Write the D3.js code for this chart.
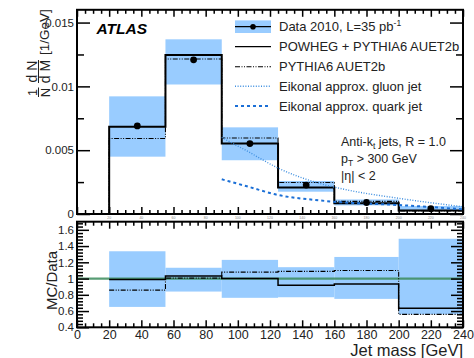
<!DOCTYPE html>
<html>
<head>
<meta charset="utf-8">
<script src="https://cdn.jsdelivr.net/npm/d3@7"></script>
<style>
  body { margin: 0; background: #fff; }
  svg { display: block; font-family: "Liberation Sans", Arial, Helvetica, sans-serif; }
</style>
</head>
<body>
<div id="chart"></div>
<script>
// ---- data ----
const binEdges = [20, 55, 90, 125, 160, 200, 240];
const dataValues = [0.0069, 0.01208, 0.00552, 0.00227, 0.0009, 0.00042];
// relative systematic band (upper / lower), same as ratio panel band
const bandHigh = [1.336, 1.133, 1.23, 1.14, 1.266, 1.49];
const bandLow = [0.651, 0.84, 0.763, 0.77, 0.75, 0.56];
const powhegValues = [0.00683, 0.01245, 0.00552, 0.00208, 0.00084, 0.000267];
const pythiaValues = [0.00592, 0.01214, 0.00596, 0.00247, 0.00099, 0.000235];
// eikonal approximations [mass, value]
const gluonCurve = [[90, 0.0060], [106.5, 0.00488], [125, 0.0036], [148, 0.0025], [167.5, 0.0019], [200, 0.00123], [240, 0.00057]];
const quarkCurve = [[90, 0.00272], [106.5, 0.00214], [125, 0.00149], [148, 0.0011], [162, 0.00094], [200, 0.0007], [240, 0.00037]];

const xMajor = [0, 20, 40, 60, 80, 100, 120, 140, 160, 180, 200, 220, 240];
const yTopMajor = [0, 0.005, 0.01, 0.015];
const yTopLabels = ["0", "0.005", "0.01", "0.015"];
const yRatioMajor = [0.4, 0.6, 0.8, 1, 1.2, 1.4, 1.6];
const yRatioLabels = ["0.4", "0.6", "0.8", "1", "1.2", "1.4", "1.6"];

const legendLabels = ["Data 2010, L=35 pb", "POWHEG + PYTHIA6 AUET2b", "PYTHIA6 AUET2b",
                      "Eikonal approx. gluon jet", "Eikonal approx. quark jet"];

// ---- layout ----
const W = 474, H = 358;
const left = 77, right = 463;
const topPanel = {top: 9.8, bottom: 214};
const ratioPanel = {top: 221.7, bottom: 327.3};

const bandColor = "#99ccff";
const gluonColor = "#3f8fe0";
const quarkColor = "#1b6fd6";

const svg = d3.select("#chart").append("svg")
    .attr("width", W).attr("height", H);
svg.append("rect").attr("width", W).attr("height", H).attr("fill", "#fff");

const x = d3.scaleLinear().domain([0, 240]).range([left, right]);
const yTop = d3.scaleLinear().domain([0, 0.016]).range([topPanel.bottom, topPanel.top]);
const yRatio = d3.scaleLinear().domain([0.4, 1.7]).range([ratioPanel.bottom, ratioPanel.top]);

const bins = dataValues.map((d, i) => ({
    x0: binEdges[i], x1: binEdges[i + 1], data: d,
    hi: bandHigh[i], lo: bandLow[i],
    powheg: powhegValues[i], pythia: pythiaValues[i]
}));

// step path through bins
function stepPoints(vals, fromZero) {
    let pts = [];
    if (fromZero) pts.push([binEdges[0], 0]);
    vals.forEach((v, i) => {
        pts.push([binEdges[i], v]);
        pts.push([binEdges[i + 1], v]);
    });
    return pts;
}

// ================= top panel =================
const gTop = svg.append("g");

gTop.selectAll(".band")
    .data(bins)
    .enter().append("rect")
    .attr("class", "band")
    .attr("x", d => x(d.x0))
    .attr("width", d => x(d.x1) - x(d.x0))
    .attr("y", d => yTop(d.data * d.hi))
    .attr("height", d => yTop(d.data * d.lo) - yTop(d.data * d.hi))
    .attr("fill", bandColor);

const lineTop = d3.line().x(d => x(d[0])).y(d => yTop(d[1]));

gTop.append("path")
    .attr("d", lineTop(stepPoints(pythiaValues, true)))
    .attr("fill", "none").attr("stroke", "#000").attr("stroke-width", 1.1)
    .attr("stroke-dasharray", "5,1.5,1,1.5,1,1.5");

gTop.append("path")
    .attr("d", lineTop(stepPoints(powhegValues, true)))
    .attr("fill", "none").attr("stroke", "#000").attr("stroke-width", 2);

const curveLine = d3.line().x(d => x(d[0])).y(d => yTop(d[1])).curve(d3.curveMonotoneX);

gTop.append("path")
    .attr("d", curveLine(gluonCurve))
    .attr("fill", "none").attr("stroke", gluonColor).attr("stroke-width", 1.4)
    .attr("stroke-dasharray", "1,1.6");

gTop.append("path")
    .attr("d", curveLine(quarkCurve))
    .attr("fill", "none").attr("stroke", quarkColor).attr("stroke-width", 2)
    .attr("stroke-dasharray", "3,3");

gTop.selectAll(".pt")
    .data(bins)
    .enter().append("circle")
    .attr("class", "pt")
    .attr("cx", d => (x(d.x0) + x(d.x1)) / 2)
    .attr("cy", d => yTop(d.data))
    .attr("r", 3.4)
    .attr("fill", "#000");

// ================= ratio panel =================
const gRatio = svg.append("g");

gRatio.selectAll(".band")
    .data(bins)
    .enter().append("rect")
    .attr("class", "band")
    .attr("x", d => x(d.x0))
    .attr("width", d => x(d.x1) - x(d.x0))
    .attr("y", d => yRatio(d.hi))
    .attr("height", d => yRatio(d.lo) - yRatio(d.hi))
    .attr("fill", bandColor);

gRatio.append("line")
    .attr("x1", x(0)).attr("x2", x(240))
    .attr("y1", yRatio(1)).attr("y2", yRatio(1))
    .attr("stroke", "#3c8c5c").attr("stroke-width", 2.2).attr("opacity", 0.85);

const lineRatio = d3.line().x(d => x(d[0])).y(d => yRatio(d[1]));
const pythiaRatio = pythiaValues.map((v, i) => v / dataValues[i]);
const powhegRatio = powhegValues.map((v, i) => v / dataValues[i]);

gRatio.append("path")
    .attr("d", lineRatio(stepPoints(pythiaRatio, false)))
    .attr("fill", "none").attr("stroke", "#000").attr("stroke-width", 1.1)
    .attr("stroke-dasharray", "5,1.5,1,1.5,1,1.5");

gRatio.append("path")
    .attr("d", lineRatio(stepPoints(powhegRatio, false)))
    .attr("fill", "none").attr("stroke", "#000").attr("stroke-width", 1.5);

// ================= axes =================
function styleAxis(g) {
    g.select(".domain").remove();
    g.selectAll(".tick line").attr("stroke", "#000").attr("stroke-width", 1.5);
    g.selectAll(".tick text").attr("fill", "#222");
}

const xMinor = d3.range(0, 241, 5).filter(v => v % 20 !== 0);

function xTicks(yPos, isBottom, withLabels) {
    const gen = isBottom ? d3.axisBottom(x) : d3.axisTop(x);
    svg.append("g").attr("transform", `translate(0,${yPos})`)
        .call(gen.tickValues(xMajor).tickSizeInner(-7).tickSizeOuter(0).tickPadding(2.5)
            .tickFormat(withLabels ? d3.format("d") : ""))
        .call(styleAxis)
        .call(g => g.selectAll("text").attr("font-size", 12.5));
    const genMinor = isBottom ? d3.axisBottom(x) : d3.axisTop(x);
    svg.append("g").attr("transform", `translate(0,${yPos})`)
        .call(genMinor.tickValues(xMinor).tickSizeInner(-4).tickSizeOuter(0).tickFormat(""))
        .call(styleAxis);
}

function yTicks(scale, major, labels, minor, xPos, isLeft, majorLen, minorLen) {
    const gen = isLeft ? d3.axisLeft(scale) : d3.axisRight(scale);
    svg.append("g").attr("transform", `translate(${xPos},0)`)
        .call(gen.tickValues(major).tickSizeInner(-majorLen).tickSizeOuter(0).tickPadding(3)
            .tickFormat((d, i) => labels ? labels[i] : ""))
        .call(styleAxis)
        .call(g => g.selectAll("text").attr("font-size", 11.5));
    const genMinor = isLeft ? d3.axisLeft(scale) : d3.axisRight(scale);
    svg.append("g").attr("transform", `translate(${xPos},0)`)
        .call(genMinor.tickValues(minor).tickSizeInner(-minorLen).tickSizeOuter(0).tickFormat(""))
        .call(styleAxis);
}

// top panel
const yTopMinor = [0.0025, 0.0075, 0.0125];
yTicks(yTop, yTopMajor, yTopLabels, yTopMinor, left, true, 13, 7);
yTicks(yTop, yTopMajor, null, yTopMinor, right, false, 13, 7);
xTicks(topPanel.bottom, true, false);
xTicks(topPanel.top, false, false);

// tiny hidden labels under top panel
svg.append("g").selectAll("text")
    .data(xMajor.slice(1))
    .enter().append("text")
    .attr("x", d => x(d)).attr("y", topPanel.bottom + 4.5)
    .attr("text-anchor", "middle").attr("font-size", 3.5).attr("fill", "#888")
    .text(d => d);

// ratio panel
const yRatioMinor = d3.range(0.44, 1.7, 0.04).filter(v => Math.abs(Math.round(v * 5) - v * 5) > 0.01);
yTicks(yRatio, yRatioMajor, yRatioLabels, yRatioMinor, left, true, 12, 6);
yTicks(yRatio, yRatioMajor, null, yRatioMinor, right, false, 12, 6);
xTicks(ratioPanel.bottom, true, true);
xTicks(ratioPanel.top, false, false);

// frames
[topPanel, ratioPanel].forEach(p => {
    svg.append("rect")
        .attr("x", left).attr("y", p.top)
        .attr("width", right - left).attr("height", p.bottom - p.top)
        .attr("fill", "none").attr("stroke", "#000").attr("stroke-width", 2);
});

// ================= labels =================
svg.append("text")
    .attr("x", 96.5).attr("y", 33.5)
    .attr("font-size", 15.5).attr("font-weight", "bold").attr("font-style", "italic")
    .text("ATLAS");

// y label top panel: 1/N dN/dM [1/GeV]
const yl = svg.append("g").attr("transform", "translate(38.5,97) rotate(-90)").attr("fill", "#222");
yl.append("text").attr("x", 4.5).attr("y", -1.8).attr("text-anchor", "middle").attr("font-size", 12.5).text("1");
yl.append("text").attr("x", 4.5).attr("y", 11).attr("text-anchor", "middle").attr("font-size", 13).text("N");
yl.append("line").attr("x1", 0).attr("x2", 9.5).attr("y1", 0).attr("y2", 0).attr("stroke", "#222").attr("stroke-width", 1);
yl.append("text").attr("x", 25.5).attr("y", -1.8).attr("text-anchor", "middle").attr("font-size", 14).text("d N");
yl.append("text").attr("x", 25.5).attr("y", 11).attr("text-anchor", "middle").attr("font-size", 14).text("d M");
yl.append("line").attr("x1", 14).attr("x2", 37).attr("y1", 0).attr("y2", 0).attr("stroke", "#222").attr("stroke-width", 1);
yl.append("text").attr("x", 42).attr("y", 10.5).attr("font-size", 13.5).text("[1/GeV]");

svg.append("text")
    .attr("transform", `translate(57,${(ratioPanel.top + ratioPanel.bottom) / 2 + 6}) rotate(-90)`)
    .attr("text-anchor", "middle").attr("font-size", 15).attr("fill", "#222")
    .text("MC/Data");

svg.append("text")
    .attr("x", right).attr("y", 356)
    .attr("text-anchor", "end").attr("font-size", 16.5).attr("fill", "#222")
    .text("Jet mass [GeV]");

// annotation
const ann = svg.append("g").attr("font-size", 12.5).attr("fill", "#222");
const a1 = ann.append("text").attr("x", 341).attr("y", 146);
a1.append("tspan").text("Anti-k");
a1.append("tspan").attr("font-size", 8.5).attr("dy", 3).text("t");
a1.append("tspan").attr("dy", -3).text(" jets, R = 1.0");
const a2 = ann.append("text").attr("x", 341).attr("y", 163);
a2.append("tspan").text("p");
a2.append("tspan").attr("font-size", 8.5).attr("dy", 3).text("T");
a2.append("tspan").attr("dy", -3).text(" > 300 GeV");
ann.append("text").attr("x", 341).attr("y", 180).text("|η| < 2");

// ================= legend =================
const legY = [26.7, 46.7, 66.7, 86.3, 106];
const lx0 = 235, lx1 = 271, ltx = 279;
const leg = svg.append("g");

leg.append("rect").attr("x", lx0).attr("y", legY[0] - 6.3).attr("width", lx1 - lx0).attr("height", 12.6).attr("fill", bandColor);
leg.append("line").attr("x1", lx0).attr("x2", lx1).attr("y1", legY[0]).attr("y2", legY[0]).attr("stroke", "#000").attr("stroke-width", 1.2);
leg.append("circle").attr("cx", (lx0 + lx1) / 2).attr("cy", legY[0]).attr("r", 2.8).attr("fill", "#000");

leg.append("line").attr("x1", lx0).attr("x2", lx1).attr("y1", legY[1]).attr("y2", legY[1]).attr("stroke", "#000").attr("stroke-width", 1.3);
leg.append("line").attr("x1", lx0).attr("x2", lx1).attr("y1", legY[2]).attr("y2", legY[2]).attr("stroke", "#000").attr("stroke-width", 1.1)
    .attr("stroke-dasharray", "5,1.5,1,1.5,1,1.5");
leg.append("line").attr("x1", lx0).attr("x2", lx1).attr("y1", legY[3]).attr("y2", legY[3]).attr("stroke", gluonColor).attr("stroke-width", 1.4)
    .attr("stroke-dasharray", "1,1.6");
leg.append("line").attr("x1", lx0).attr("x2", lx1).attr("y1", legY[4]).attr("y2", legY[4]).attr("stroke", quarkColor).attr("stroke-width", 2)
    .attr("stroke-dasharray", "3,3");

leg.selectAll(".lt")
    .data(legendLabels)
    .enter().append("text")
    .attr("class", "lt")
    .attr("x", ltx).attr("y", (d, i) => legY[i] + 4.6)
    .attr("font-size", 13).attr("fill", "#222")
    .each(function(d, i) {
        const t = d3.select(this);
        t.append("tspan").text(d);
        if (i === 0) t.append("tspan").attr("font-size", 8.5).attr("dy", -5).text("-1");
    });
</script>
</body>
</html>
